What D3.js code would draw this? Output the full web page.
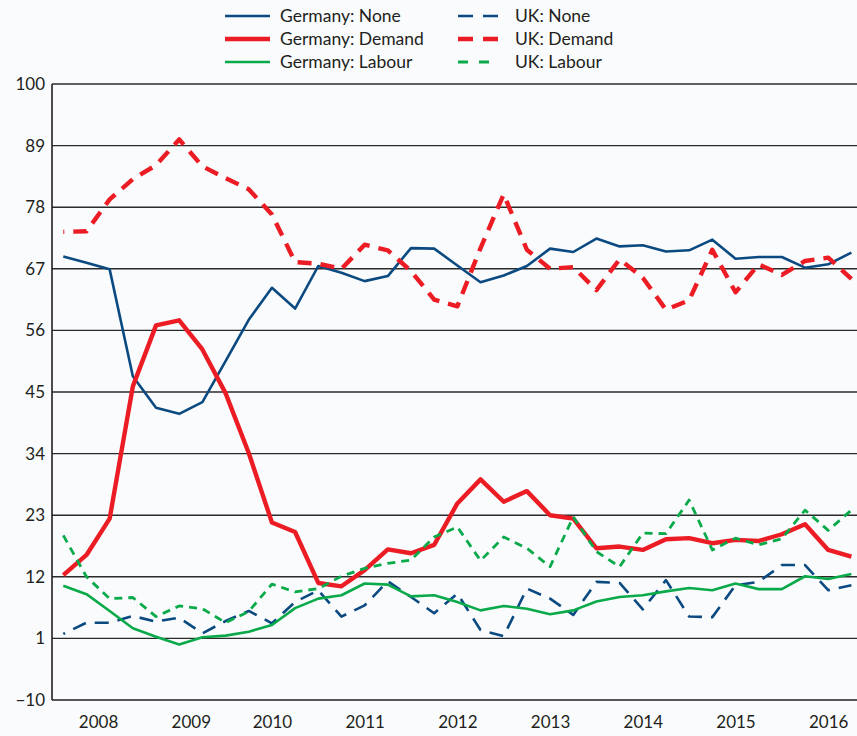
<!DOCTYPE html>
<html>
<head>
<meta charset="utf-8">
<script src="https://cdn.jsdelivr.net/npm/d3@7"></script>
<style>
  html, body { margin: 0; padding: 0; background: #f9fbfd; }
  svg { display: block; }
  text { font-family: Lato, "Open Sans", sans-serif; fill: #231f20; }
</style>
</head>
<body>
<svg id="chart" width="857" height="736"></svg>
<script>
// ---- data (quarterly, 2008 Q1 .. 2016 Q3) ----
const quarters = d3.range(35);
const germanyNone   = [69.2, 68.1, 66.9, 47.8, 42.2, 41.1, 43.2, 50.5, 57.9, 63.6, 59.9, 67.5, 66.3, 64.8, 65.7, 70.7, 70.6, 67.6, 64.6, 65.8, 67.5, 70.6, 70.0, 72.4, 71.0, 71.2, 70.1, 70.3, 72.2, 68.8, 69.1, 69.1, 67.2, 67.8, 69.9];
const germanyDemand = [12.3, 15.9, 22.4, 46.0, 56.9, 57.8, 52.6, 44.8, 34.1, 21.7, 20.0, 10.9, 10.3, 13.2, 16.9, 16.2, 17.7, 25.1, 29.4, 25.4, 27.3, 23.0, 22.4, 17.1, 17.4, 16.8, 18.7, 18.9, 18.0, 18.6, 18.4, 19.6, 21.4, 16.8, 15.6];
const germanyLabour = [10.4, 8.9, 5.9, 2.8, 1.3, -0.1, 1.2, 1.5, 2.2, 3.4, 6.4, 8.1, 8.7, 10.8, 10.6, 8.5, 8.7, 7.5, 6.0, 6.8, 6.3, 5.3, 6.0, 7.6, 8.4, 8.7, 9.4, 10.0, 9.6, 10.8, 9.8, 9.8, 12.1, 11.6, 12.5];
const ukNone        = [1.8, 3.8, 3.8, 5.0, 4.0, 4.7, 1.9, 4.1, 5.9, 3.7, 7.5, 9.6, 4.9, 6.9, 11.2, 8.4, 5.5, 9.0, 2.5, 1.4, 9.9, 8.1, 5.2, 11.1, 10.9, 6.2, 11.4, 4.9, 4.8, 10.5, 11.1, 14.1, 14.1, 9.6, 10.5];
const ukDemand      = [73.6, 73.7, 79.4, 83.0, 85.5, 90.1, 85.3, 83.2, 81.2, 76.7, 68.2, 67.9, 67.0, 71.3, 70.3, 66.6, 61.5, 60.3, 70.7, 80.3, 70.4, 67.0, 67.3, 63.2, 68.7, 65.4, 59.7, 61.4, 70.4, 62.8, 67.8, 65.9, 68.4, 69.0, 65.2];
const ukLabour      = [19.4, 12.0, 8.1, 8.3, 4.9, 6.8, 6.3, 3.8, 5.8, 10.7, 9.3, 9.9, 12.1, 13.5, 14.4, 15.0, 19.1, 20.9, 14.9, 19.1, 17.1, 13.8, 22.7, 16.5, 13.8, 19.8, 19.7, 25.7, 16.8, 18.9, 17.7, 18.8, 23.9, 20.3, 23.9];

const yTicks = [-10, 1, 12, 23, 34, 45, 56, 67, 78, 89, 100];
const yearLabels = ["2008", "2009", "2010", "2011", "2012", "2013", "2014", "2015", "2016"];
const yearLabelPos = [1.5, 5.5, 9, 13, 17, 21, 25, 29, 33];

const seriesNames = ["Germany: None", "Germany: Demand", "Germany: Labour", "UK: None", "UK: Demand", "UK: Labour"];
const seriesValues = [germanyNone, germanyDemand, germanyLabour, ukNone, ukDemand, ukLabour];

// ---- styles ----
const BLUE = "#0b4a80", RED = "#ec1c24", GREEN = "#0aaa4a";
const styles = [
  { color: BLUE,  width: 2.6, dash: null },
  { color: RED,   width: 4.4, dash: null },
  { color: GREEN, width: 2.6, dash: null },
  { color: BLUE,  width: 2.6, dash: "14,9", offset: 12 },
  { color: RED,   width: 4.4, dash: "14,9", offset: 13 },
  { color: GREEN, width: 2.8, dash: "8,6", offset: 0 }
];

const svg = d3.select("#chart");
const x = d3.scaleLinear().domain([0, 34]).range([63.3, 851.4]);
const y = d3.scaleLinear().domain([-10, 100]).range([700, 84]);
const plotLeft = 52, plotRight = 857;

// gridlines
svg.append("g").selectAll("line")
  .data(yTicks.filter(t => t !== -10))
  .join("line")
  .attr("x1", plotLeft).attr("x2", plotRight)
  .attr("y1", d => y(d)).attr("y2", d => y(d))
  .attr("stroke", "#2b2a2b").attr("stroke-width", 1.4);

// y axis
const yAxis = d3.axisLeft(y).tickValues(yTicks).tickSize(0).tickPadding(7).tickFormat(d3.format("d"));
const gy = svg.append("g").attr("transform", `translate(${plotLeft},0)`).call(yAxis);
gy.select(".domain").remove();
gy.selectAll("text").attr("font-size", "17px").attr("fill", "#231f20").style("font-family", "Lato, 'Open Sans', sans-serif");

// x axis (labels only)
const xAxis = d3.axisBottom(x).tickValues(yearLabelPos).tickSize(0).tickPadding(16)
  .tickFormat((d, i) => yearLabels[i]);
const gx = svg.append("g").attr("transform", `translate(0,700)`).call(xAxis);
gx.select(".domain").remove();
gx.selectAll("text").attr("font-size", "17px").attr("fill", "#231f20").style("font-family", "Lato, 'Open Sans', sans-serif");

// axis lines
svg.append("line").attr("x1", plotLeft).attr("x2", plotLeft).attr("y1", y(100)).attr("y2", y(-10))
  .attr("stroke", "#231f20").attr("stroke-width", 1.6);
svg.append("line").attr("x1", plotLeft).attr("x2", plotRight).attr("y1", y(-10)).attr("y2", y(-10))
  .attr("stroke", "#231f20").attr("stroke-width", 1.6);

// lines
const line = d3.line().x((d, i) => x(quarters[i])).y(d => y(d));
const drawOrder = [0, 4, 1, 3, 5, 2];
drawOrder.forEach(k => {
  const s = styles[k];
  const p = svg.append("path")
    .datum(seriesValues[k])
    .attr("d", line)
    .attr("fill", "none")
    .attr("stroke", s.color)
    .attr("stroke-width", s.width)
    .attr("stroke-linejoin", "round");
  if (s.dash) p.attr("stroke-dasharray", s.dash).attr("stroke-dashoffset", s.offset);
});

// legend
const legend = svg.append("g");
const cols = [{ lx: 225, tx: 280 }, { lx: 458, tx: 515 }];
const rowsY = [16, 39, 62];
seriesNames.forEach((name, k) => {
  const c = cols[Math.floor(k / 3)], ry = rowsY[k % 3], s = styles[k];
  const l = legend.append("line")
    .attr("x1", c.lx).attr("x2", k < 3 ? c.lx + 45 : c.lx + 42)
    .attr("y1", ry).attr("y2", ry)
    .attr("stroke", s.color).attr("stroke-width", s.width);
  if (s.dash) l.attr("stroke-dasharray", k === 5 ? "10,11" : "15,10");
  legend.append("text").attr("x", c.tx).attr("y", ry + 6)
    .attr("font-size", "17.5px").text(name);
});
</script>
</body>
</html>
